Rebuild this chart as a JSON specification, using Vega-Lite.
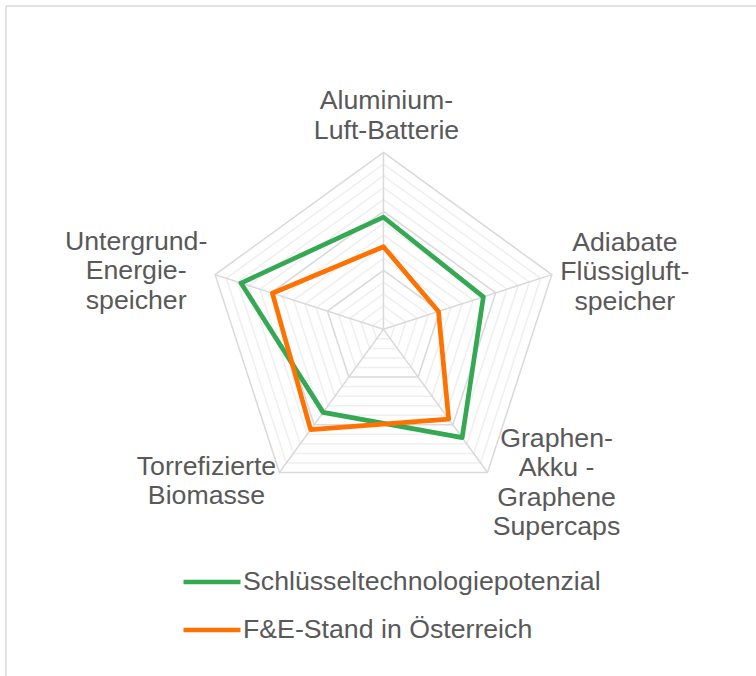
{
  "$schema": "https://vega.github.io/schema/vega-lite/v6.json",
  "width": 750,
  "height": 670,
  "autosize": "none",
  "padding": {"left": 6, "top": 6, "right": 0, "bottom": 0},
  "background": "#ffffff",
  "config": {
    "view": {"stroke": null},
    "font": "Liberation Sans",
    "text": {"font": "Liberation Sans", "fontSize": 26.7, "color": "#595959", "lineHeight": 29.5}
  },
  "datasets": {
    "cats": [
      {"idx": 0, "label": ["Aluminium-", "Luft-Batterie"]},
      {"idx": 1, "label": ["Adiabate", "Flüssigluft-", "speicher"]},
      {"idx": 2, "label": ["Graphen-", "Akku -", "Graphene", "Supercaps"]},
      {"idx": 3, "label": ["Torrefizierte", "Biomasse"]},
      {"idx": 4, "label": ["Untergrund-", "Energie-", "speicher"]}
    ],
    "rings": [
      {"level": 0.2, "major": "minor", "k": [0, 1, 2, 3, 4]},
      {"level": 0.4, "major": "minor", "k": [0, 1, 2, 3, 4]},
      {"level": 0.6, "major": "minor", "k": [0, 1, 2, 3, 4]},
      {"level": 0.8, "major": "minor", "k": [0, 1, 2, 3, 4]},
      {"level": 1.2, "major": "minor", "k": [0, 1, 2, 3, 4]},
      {"level": 1.4, "major": "minor", "k": [0, 1, 2, 3, 4]},
      {"level": 1.6, "major": "minor", "k": [0, 1, 2, 3, 4]},
      {"level": 1.8, "major": "minor", "k": [0, 1, 2, 3, 4]},
      {"level": 2.2, "major": "minor", "k": [0, 1, 2, 3, 4]},
      {"level": 2.4, "major": "minor", "k": [0, 1, 2, 3, 4]},
      {"level": 2.6, "major": "minor", "k": [0, 1, 2, 3, 4]},
      {"level": 2.8, "major": "minor", "k": [0, 1, 2, 3, 4]},
      {"level": 1.0, "major": "major", "k": [0, 1, 2, 3, 4]},
      {"level": 2.0, "major": "major", "k": [0, 1, 2, 3, 4]},
      {"level": 3.0, "major": "major", "k": [0, 1, 2, 3, 4]}
    ],
    "series": [
      {"series": "Schlüsseltechnologiepotenzial", "idx": 0, "value": 1.9},
      {"series": "Schlüsseltechnologiepotenzial", "idx": 1, "value": 1.78},
      {"series": "Schlüsseltechnologiepotenzial", "idx": 2, "value": 2.27},
      {"series": "Schlüsseltechnologiepotenzial", "idx": 3, "value": 1.74},
      {"series": "Schlüsseltechnologiepotenzial", "idx": 4, "value": 2.54},
      {"series": "F&E-Stand in Österreich", "idx": 0, "value": 1.4},
      {"series": "F&E-Stand in Österreich", "idx": 1, "value": 0.98},
      {"series": "F&E-Stand in Österreich", "idx": 2, "value": 1.88},
      {"series": "F&E-Stand in Österreich", "idx": 3, "value": 2.1},
      {"series": "F&E-Stand in Österreich", "idx": 4, "value": 1.98}
    ]
  },
  "layer": [
    {
      "data": {"name": "rings"},
      "transform": [
        {"filter": "datum.major == 'minor'"},
        {"flatten": ["k"]},
        {"calculate": "datum.level * sin(datum.k * 2 * PI / 5)", "as": "x"},
        {"calculate": "datum.level * cos(datum.k * 2 * PI / 5)", "as": "y"}
      ],
      "mark": {"type": "line", "interpolate": "linear-closed", "strokeWidth": 1.5, "stroke": "#efefef"},
      "encoding": {
        "x": {"field": "x", "type": "quantitative", "scale": {"domain": [-6.398, 6.314], "nice": false, "zero": false}, "axis": null},
        "y": {"field": "y", "type": "quantitative", "scale": {"domain": [-5.876, 5.48], "nice": false, "zero": false}, "axis": null},
        "detail": {"field": "level", "type": "nominal"},
        "order": {"field": "k", "type": "quantitative"}
      }
    },
    {
      "data": {"name": "rings"},
      "transform": [
        {"filter": "datum.major == 'major'"},
        {"flatten": ["k"]},
        {"calculate": "datum.level * sin(datum.k * 2 * PI / 5)", "as": "x"},
        {"calculate": "datum.level * cos(datum.k * 2 * PI / 5)", "as": "y"}
      ],
      "mark": {"type": "line", "interpolate": "linear-closed", "strokeWidth": 1.5, "stroke": "#d9d9d9"},
      "encoding": {
        "x": {"field": "x", "type": "quantitative"},
        "y": {"field": "y", "type": "quantitative"},
        "detail": {"field": "level", "type": "nominal"},
        "order": {"field": "k", "type": "quantitative"}
      }
    },
    {
      "data": {"name": "cats"},
      "transform": [
        {"calculate": "3 * sin(datum.idx * 2 * PI / 5)", "as": "x"},
        {"calculate": "3 * cos(datum.idx * 2 * PI / 5)", "as": "y"}
      ],
      "mark": {"type": "rule", "stroke": "#d9d9d9", "strokeWidth": 1.5},
      "encoding": {
        "x": {"field": "x", "type": "quantitative"},
        "y": {"field": "y", "type": "quantitative"},
        "x2": {"datum": 0},
        "y2": {"datum": 0}
      }
    },
    {
      "data": {"name": "series"},
      "transform": [
        {"calculate": "datum.value * sin(datum.idx * 2 * PI / 5)", "as": "x"},
        {"calculate": "datum.value * cos(datum.idx * 2 * PI / 5)", "as": "y"}
      ],
      "mark": {"type": "line", "interpolate": "linear-closed", "strokeWidth": 4.7, "strokeJoin": "round"},
      "encoding": {
        "x": {"field": "x", "type": "quantitative"},
        "y": {"field": "y", "type": "quantitative"},
        "order": {"field": "idx", "type": "quantitative"},
        "color": {
          "field": "series", "type": "nominal",
          "scale": {"domain": ["Schlüsseltechnologiepotenzial", "F&E-Stand in Österreich"], "range": ["#34A853", "#FF7100"]},
          "legend": {
            "title": null, "orient": "none", "legendX": 175, "legendY": 545,
            "symbolType": "stroke", "symbolSize": 3249, "symbolStrokeWidth": 4.7,
            "labelFont": "Liberation Sans", "labelFontSize": 26.7, "labelColor": "#595959",
            "labelOffset": 0, "rowPadding": 3, "padding": 0, "labelLimit": 600
          }
        }
      }
    },
    {
      "data": {"name": "cats"},
      "transform": [
        {"filter": "datum.idx == 0"},
        {"calculate": "3 * sin(datum.idx * 2 * PI / 5)", "as": "x"},
        {"calculate": "3 * cos(datum.idx * 2 * PI / 5)", "as": "y"}
      ],
      "mark": {"type": "text", "align": "center", "baseline": "middle", "dx": 3, "dy": -51},
      "encoding": {"x": {"field": "x", "type": "quantitative"}, "y": {"field": "y", "type": "quantitative"}, "text": {"field": "label"}}
    },
    {
      "data": {"name": "cats"},
      "transform": [
        {"filter": "datum.idx == 1"},
        {"calculate": "3 * sin(datum.idx * 2 * PI / 5)", "as": "x"},
        {"calculate": "3 * cos(datum.idx * 2 * PI / 5)", "as": "y"}
      ],
      "mark": {"type": "text", "align": "center", "baseline": "middle", "dx": 73, "dy": -32},
      "encoding": {"x": {"field": "x", "type": "quantitative"}, "y": {"field": "y", "type": "quantitative"}, "text": {"field": "label"}}
    },
    {
      "data": {"name": "cats"},
      "transform": [
        {"filter": "datum.idx == 2"},
        {"calculate": "3 * sin(datum.idx * 2 * PI / 5)", "as": "x"},
        {"calculate": "3 * cos(datum.idx * 2 * PI / 5)", "as": "y"}
      ],
      "mark": {"type": "text", "align": "center", "baseline": "middle", "dx": 69, "dy": -34},
      "encoding": {"x": {"field": "x", "type": "quantitative"}, "y": {"field": "y", "type": "quantitative"}, "text": {"field": "label"}}
    },
    {
      "data": {"name": "cats"},
      "transform": [
        {"filter": "datum.idx == 3"},
        {"calculate": "3 * sin(datum.idx * 2 * PI / 5)", "as": "x"},
        {"calculate": "3 * cos(datum.idx * 2 * PI / 5)", "as": "y"}
      ],
      "mark": {"type": "text", "align": "center", "baseline": "middle", "dx": -73, "dy": -6},
      "encoding": {"x": {"field": "x", "type": "quantitative"}, "y": {"field": "y", "type": "quantitative"}, "text": {"field": "label"}}
    },
    {
      "data": {"name": "cats"},
      "transform": [
        {"filter": "datum.idx == 4"},
        {"calculate": "3 * sin(datum.idx * 2 * PI / 5)", "as": "x"},
        {"calculate": "3 * cos(datum.idx * 2 * PI / 5)", "as": "y"}
      ],
      "mark": {"type": "text", "align": "center", "baseline": "middle", "dx": -79, "dy": -33},
      "encoding": {"x": {"field": "x", "type": "quantitative"}, "y": {"field": "y", "type": "quantitative"}, "text": {"field": "label"}}
    },
    {
      "data": {"values": [{"edge": -6.398}]},
      "mark": {"type": "rule", "stroke": "#d9d9d9", "strokeWidth": 1.5},
      "encoding": {"x": {"field": "edge", "type": "quantitative"}}
    },
    {
      "data": {"values": [{"edge": 5.48}]},
      "mark": {"type": "rule", "stroke": "#d9d9d9", "strokeWidth": 1.5},
      "encoding": {"y": {"field": "edge", "type": "quantitative"}}
    }
  ]
}
